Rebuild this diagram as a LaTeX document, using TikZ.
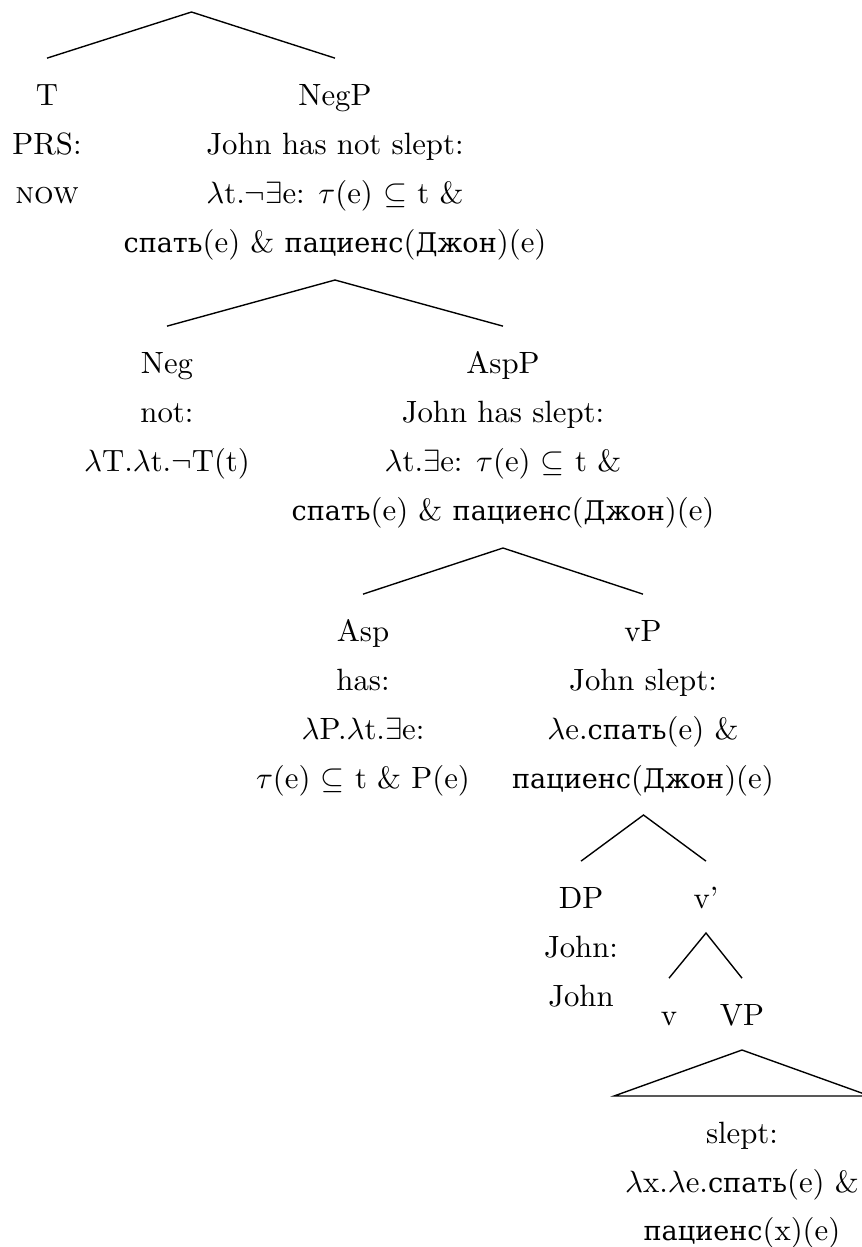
\documentclass[tikz,border=0pt]{standalone}
\usepackage{fontspec}
% Latin Modern has no Cyrillic, so Russian words are set in a serif that has it
\newfontfamily\cyrfont{DejaVu Serif}[Scale=0.88]
\newcommand{\ru}[1]{{\cyrfont #1}}

\begin{document}
\begin{tikzpicture}[
    x=0.325pt, y=-0.325pt,
    every node/.style={inner sep=0pt, anchor=base},
    cat/.style={text height=6.83pt},
    branch/.style={line width=0.45pt},
  ]
  \useasboundingbox (0,0) rectangle (861,1247);

  % ---- TP: T + NegP ----
  \coordinate (tp) at (191.5,12);
  \node[cat] (T) at (47,105) {T};
  \node (T1) at (47,154) {PRS:};
  \node (T2) at (47,203) {\textsc{now}};
  \node[cat] (NegP) at (335,105) {NegP};
  \node (NegP1) at (335,154) {John has not slept:};
  \node (NegP2) at (335,203) {$\lambda$t.$\neg\exists$e: $\tau$(e) $\subseteq$ t \&};
  \node (NegP3) at (335,252) {\ru{спать}(e) \& \ru{пациенс}(\ru{Джон})(e)};
  \draw[branch] ([yshift=8.2pt]T.north) -- (tp) -- ([yshift=8.2pt]NegP.north);

  % ---- NegP: Neg + AspP ----
  \coordinate (negp) at (335,280);
  \node[cat] (Neg) at (167,373) {Neg};
  \node (Neg1) at (167,422) {not:};
  \node (Neg2) at (167,471) {$\lambda$T.$\lambda$t.$\neg$T(t)};
  \node[cat] (AspP) at (503,373) {AspP};
  \node (AspP1) at (503,422) {John has slept:};
  \node (AspP2) at (503,471) {$\lambda$t.$\exists$e: $\tau$(e) $\subseteq$ t \&};
  \node (AspP3) at (503,520) {\ru{спать}(e) \& \ru{пациенс}(\ru{Джон})(e)};
  \draw[branch] ([yshift=8.2pt]Neg.north) -- (negp) -- ([yshift=8.2pt]AspP.north);

  % ---- AspP: Asp + vP ----
  \coordinate (aspp) at (503,548);
  \node[cat] (Asp) at (363,641) {Asp};
  \node (Asp1) at (363,690) {has:};
  \node (Asp2) at (363,739) {$\lambda$P.$\lambda$t.$\exists$e:};
  \node (Asp3) at (363,788) {$\tau$(e) $\subseteq$ t \& P(e)};
  \node[cat] (vP) at (643,641) {vP};
  \node (vP1) at (643,690) {John slept:};
  \node (vP2) at (643,739) {$\lambda$e.\ru{спать}(e) \&};
  \node (vP3) at (643,788) {\ru{пациенс}(\ru{Джон})(e)};
  \draw[branch] ([yshift=8.2pt]Asp.north) -- (aspp) -- ([yshift=8.2pt]vP.north);

  % ---- vP: DP + v' ----
  \coordinate (vp) at (643.5,815);
  \node[cat] (DP) at (581,908) {DP};
  \node (DP1) at (581,957) {John:};
  \node (DP2) at (581,1006) {John};
  \node[cat] (vbar) at (706,908) {v’};
  \draw[branch] ([yshift=8.2pt]DP.north) -- (vp) -- ([yshift=8.2pt]vbar.north);

  % ---- v': v + VP ----
  \coordinate (vbartop) at (706,933);
  \node[cat] (v) at (669,1025) {v};
  \node[cat] (VP) at (742,1025) {VP};
  \draw[branch] ([yshift=8.2pt]v.north) -- (vbartop) -- ([yshift=8.2pt]VP.north);

  % ---- VP drawn as a triangle ----
  \coordinate (VPtop) at (742,1050);
  \coordinate (triL) at (614,1096);
  \coordinate (triR) at (870,1096);
  \draw[branch, line join=miter] (VPtop) -- (triL) -- (triR) -- cycle;
  \node (VP1) at (742,1143) {slept:};
  \node (VP2) at (742,1192) {$\lambda$x.$\lambda$e.\ru{спать}(e) \&};
  \node (VP3) at (742,1240) {\ru{пациенс}(x)(e)};
\end{tikzpicture}
\end{document}
